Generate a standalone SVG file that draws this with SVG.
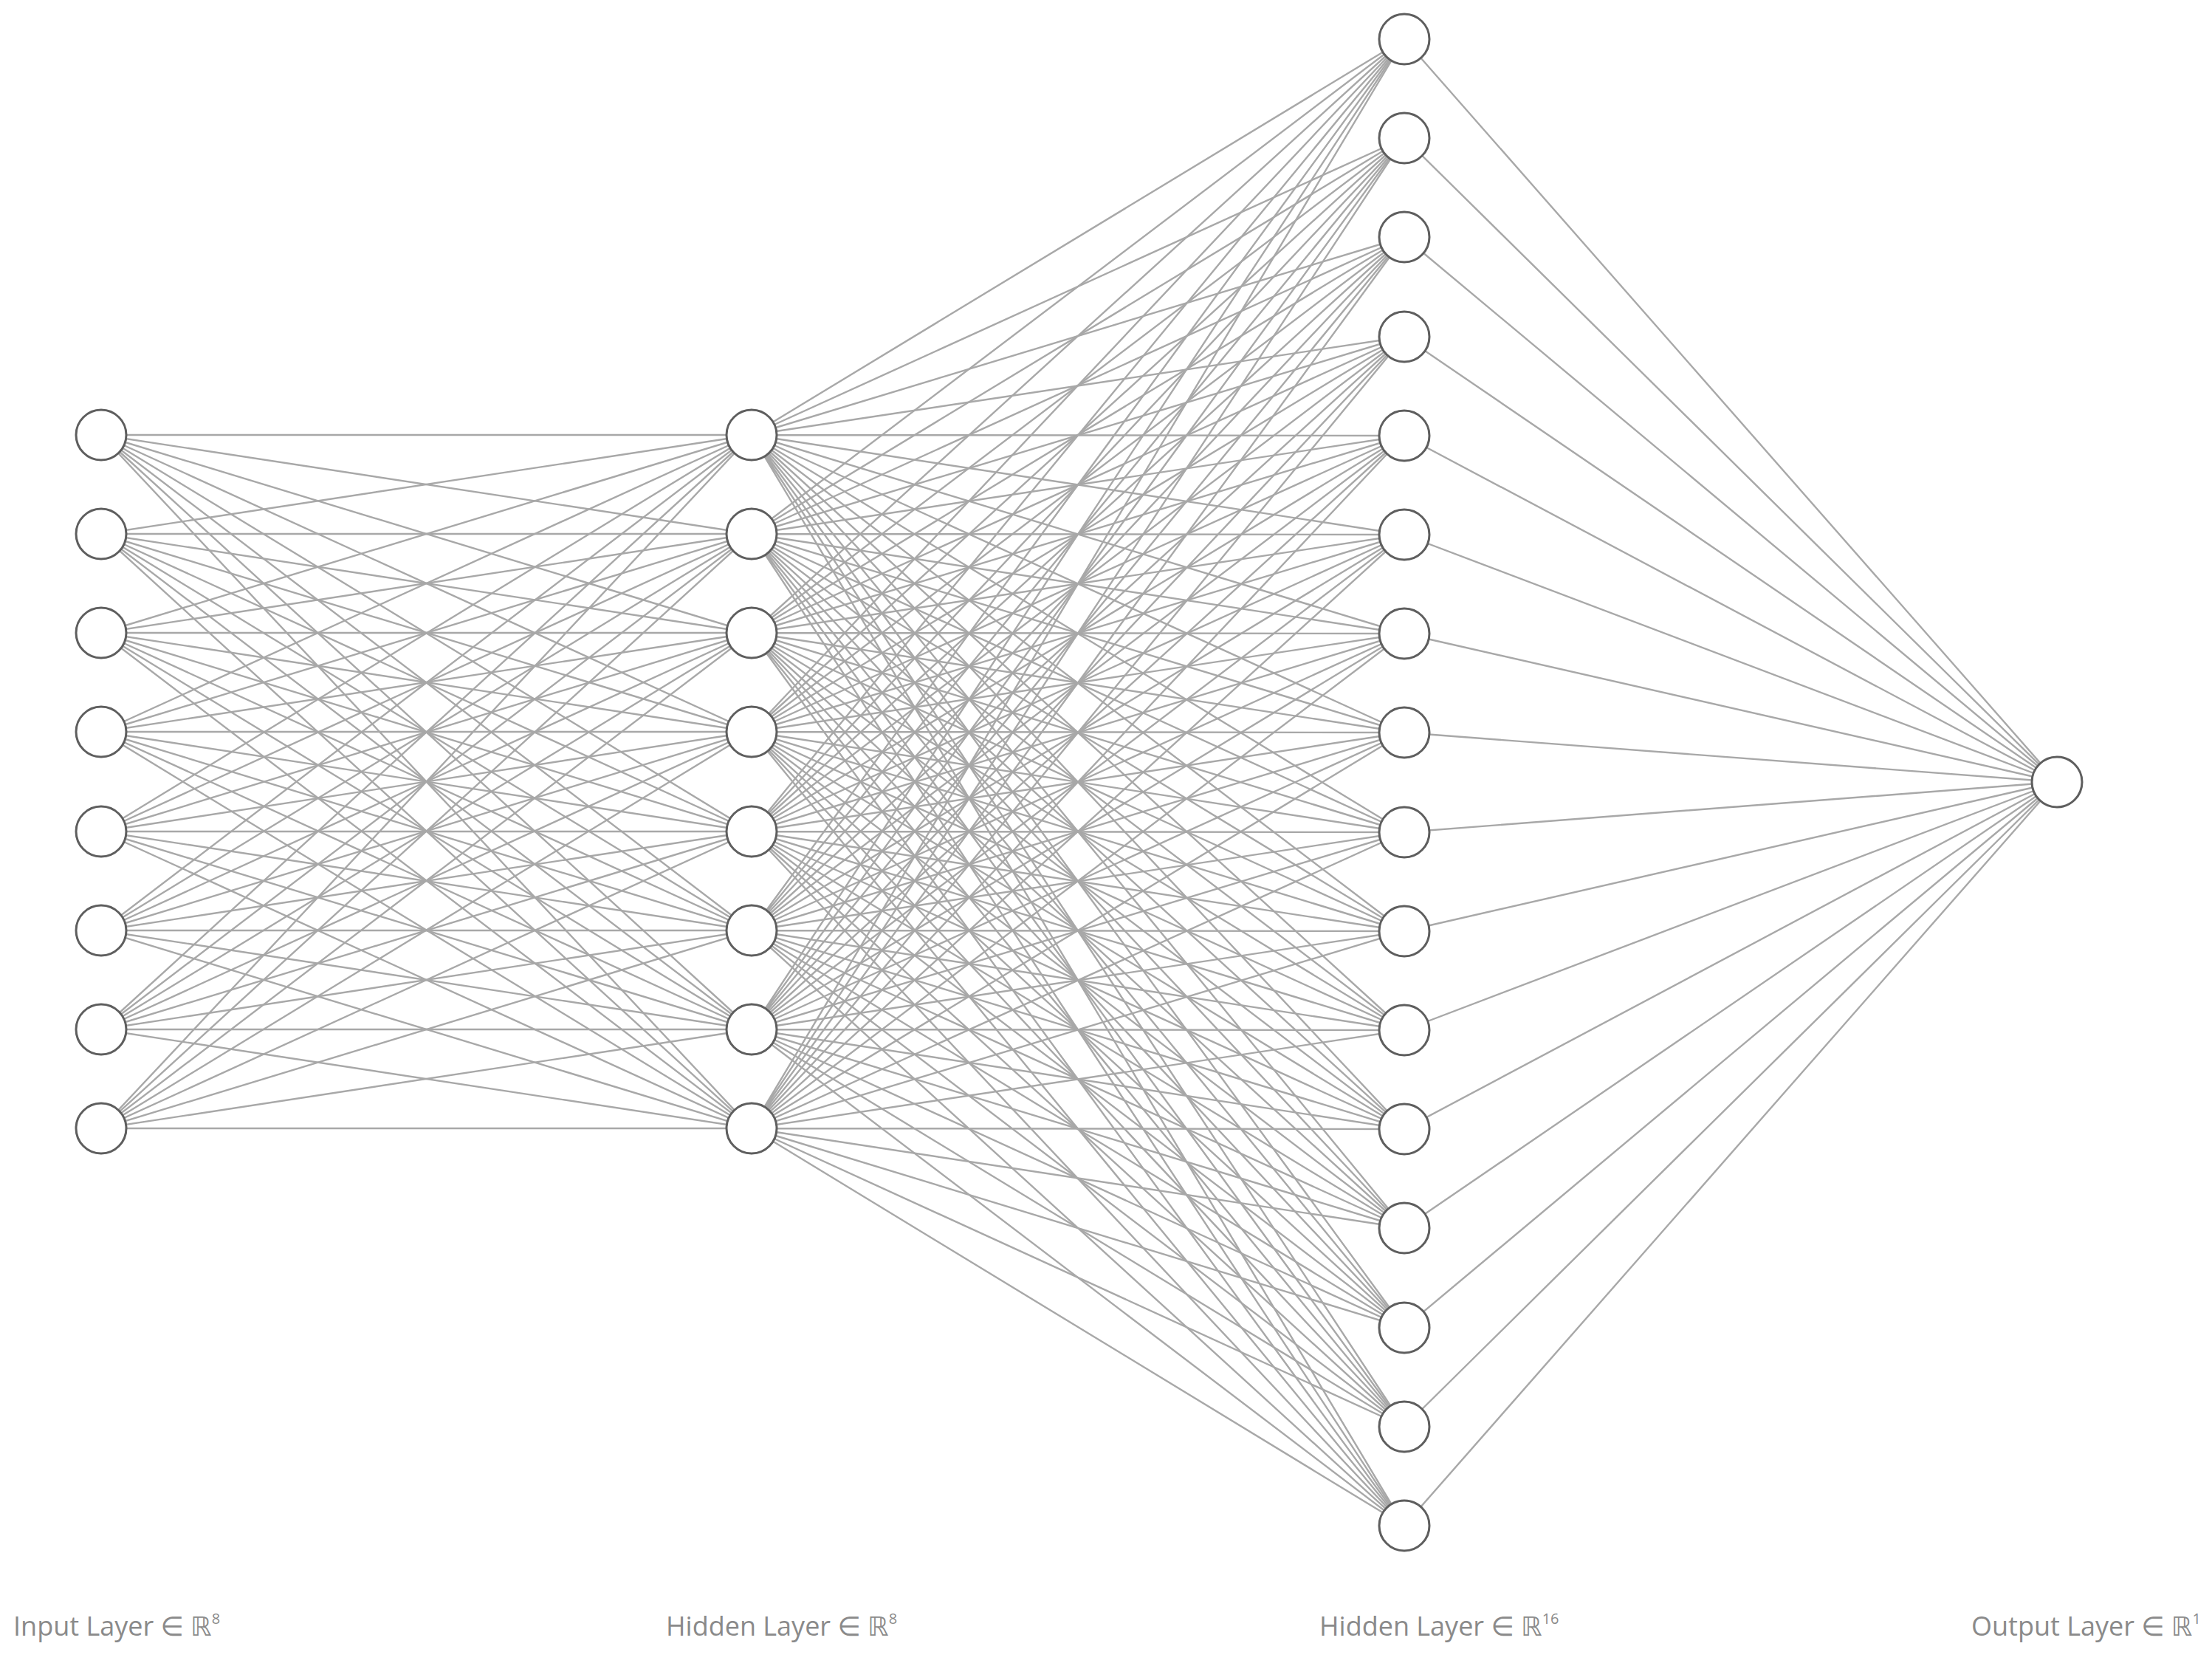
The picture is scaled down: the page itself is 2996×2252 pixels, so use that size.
<svg xmlns="http://www.w3.org/2000/svg" width="2996" height="2252" viewBox="0 0 2996 2252">
<style>
.e{fill:none;stroke:#a8a8a8;stroke-width:2.4}
.n{fill:#fff;stroke:#5e5e5e;stroke-width:3}
.t{font-family:"Open Sans","DejaVu Sans",sans-serif;font-size:36px;fill:#8a8a8a}
.s{font-size:20px}
</style>
<rect width="2996" height="2252" fill="#fff"/>
<g id="connectors">
<path class="e" d="M137 589L1018 589M137 589L1018 723M137 589L1018 857M137 589L1018 991M137 589L1018 1126M137 589L1018 1260M137 589L1018 1394M137 589L1018 1528"/>
<path class="e" d="M137 723L1018 589M137 723L1018 723M137 723L1018 857M137 723L1018 991M137 723L1018 1126M137 723L1018 1260M137 723L1018 1394M137 723L1018 1528"/>
<path class="e" d="M137 857L1018 589M137 857L1018 723M137 857L1018 857M137 857L1018 991M137 857L1018 1126M137 857L1018 1260M137 857L1018 1394M137 857L1018 1528"/>
<path class="e" d="M137 991L1018 589M137 991L1018 723M137 991L1018 857M137 991L1018 991M137 991L1018 1126M137 991L1018 1260M137 991L1018 1394M137 991L1018 1528"/>
<path class="e" d="M137 1126L1018 589M137 1126L1018 723M137 1126L1018 857M137 1126L1018 991M137 1126L1018 1126M137 1126L1018 1260M137 1126L1018 1394M137 1126L1018 1528"/>
<path class="e" d="M137 1260L1018 589M137 1260L1018 723M137 1260L1018 857M137 1260L1018 991M137 1260L1018 1126M137 1260L1018 1260M137 1260L1018 1394M137 1260L1018 1528"/>
<path class="e" d="M137 1394L1018 589M137 1394L1018 723M137 1394L1018 857M137 1394L1018 991M137 1394L1018 1126M137 1394L1018 1260M137 1394L1018 1394M137 1394L1018 1528"/>
<path class="e" d="M137 1528L1018 589M137 1528L1018 723M137 1528L1018 857M137 1528L1018 991M137 1528L1018 1126M137 1528L1018 1260M137 1528L1018 1394M137 1528L1018 1528"/>
<path class="e" d="M1018 589L1902 53M1018 589L1902 187M1018 589L1902 321M1018 589L1902 456M1018 589L1902 590M1018 589L1902 724M1018 589L1902 858M1018 589L1902 992M1018 589L1902 1127M1018 589L1902 1261M1018 589L1902 1395M1018 589L1902 1529M1018 589L1902 1663M1018 589L1902 1798M1018 589L1902 1932M1018 589L1902 2066"/>
<path class="e" d="M1018 723L1902 53M1018 723L1902 187M1018 723L1902 321M1018 723L1902 456M1018 723L1902 590M1018 723L1902 724M1018 723L1902 858M1018 723L1902 992M1018 723L1902 1127M1018 723L1902 1261M1018 723L1902 1395M1018 723L1902 1529M1018 723L1902 1663M1018 723L1902 1798M1018 723L1902 1932M1018 723L1902 2066"/>
<path class="e" d="M1018 857L1902 53M1018 857L1902 187M1018 857L1902 321M1018 857L1902 456M1018 857L1902 590M1018 857L1902 724M1018 857L1902 858M1018 857L1902 992M1018 857L1902 1127M1018 857L1902 1261M1018 857L1902 1395M1018 857L1902 1529M1018 857L1902 1663M1018 857L1902 1798M1018 857L1902 1932M1018 857L1902 2066"/>
<path class="e" d="M1018 991L1902 53M1018 991L1902 187M1018 991L1902 321M1018 991L1902 456M1018 991L1902 590M1018 991L1902 724M1018 991L1902 858M1018 991L1902 992M1018 991L1902 1127M1018 991L1902 1261M1018 991L1902 1395M1018 991L1902 1529M1018 991L1902 1663M1018 991L1902 1798M1018 991L1902 1932M1018 991L1902 2066"/>
<path class="e" d="M1018 1126L1902 53M1018 1126L1902 187M1018 1126L1902 321M1018 1126L1902 456M1018 1126L1902 590M1018 1126L1902 724M1018 1126L1902 858M1018 1126L1902 992M1018 1126L1902 1127M1018 1126L1902 1261M1018 1126L1902 1395M1018 1126L1902 1529M1018 1126L1902 1663M1018 1126L1902 1798M1018 1126L1902 1932M1018 1126L1902 2066"/>
<path class="e" d="M1018 1260L1902 53M1018 1260L1902 187M1018 1260L1902 321M1018 1260L1902 456M1018 1260L1902 590M1018 1260L1902 724M1018 1260L1902 858M1018 1260L1902 992M1018 1260L1902 1127M1018 1260L1902 1261M1018 1260L1902 1395M1018 1260L1902 1529M1018 1260L1902 1663M1018 1260L1902 1798M1018 1260L1902 1932M1018 1260L1902 2066"/>
<path class="e" d="M1018 1394L1902 53M1018 1394L1902 187M1018 1394L1902 321M1018 1394L1902 456M1018 1394L1902 590M1018 1394L1902 724M1018 1394L1902 858M1018 1394L1902 992M1018 1394L1902 1127M1018 1394L1902 1261M1018 1394L1902 1395M1018 1394L1902 1529M1018 1394L1902 1663M1018 1394L1902 1798M1018 1394L1902 1932M1018 1394L1902 2066"/>
<path class="e" d="M1018 1528L1902 53M1018 1528L1902 187M1018 1528L1902 321M1018 1528L1902 456M1018 1528L1902 590M1018 1528L1902 724M1018 1528L1902 858M1018 1528L1902 992M1018 1528L1902 1127M1018 1528L1902 1261M1018 1528L1902 1395M1018 1528L1902 1529M1018 1528L1902 1663M1018 1528L1902 1798M1018 1528L1902 1932M1018 1528L1902 2066"/>
<path class="e" d="M1902 53L2786 1059M1902 187L2786 1059M1902 321L2786 1059M1902 456L2786 1059M1902 590L2786 1059M1902 724L2786 1059M1902 858L2786 1059M1902 992L2786 1059M1902 1127L2786 1059M1902 1261L2786 1059M1902 1395L2786 1059M1902 1529L2786 1059M1902 1663L2786 1059M1902 1798L2786 1059M1902 1932L2786 1059M1902 2066L2786 1059"/>
</g>
<g id="input-layer">
<g id="in1"><circle class="n" cx="137" cy="589" r="34"/></g>
<g id="in2"><circle class="n" cx="137" cy="723" r="34"/></g>
<g id="in3"><circle class="n" cx="137" cy="857" r="34"/></g>
<g id="in4"><circle class="n" cx="137" cy="991" r="34"/></g>
<g id="in5"><circle class="n" cx="137" cy="1126" r="34"/></g>
<g id="in6"><circle class="n" cx="137" cy="1260" r="34"/></g>
<g id="in7"><circle class="n" cx="137" cy="1394" r="34"/></g>
<g id="in8"><circle class="n" cx="137" cy="1528" r="34"/></g>
</g>
<g id="hidden1-layer">
<g id="h1_1"><circle class="n" cx="1018" cy="589" r="34"/></g>
<g id="h1_2"><circle class="n" cx="1018" cy="723" r="34"/></g>
<g id="h1_3"><circle class="n" cx="1018" cy="857" r="34"/></g>
<g id="h1_4"><circle class="n" cx="1018" cy="991" r="34"/></g>
<g id="h1_5"><circle class="n" cx="1018" cy="1126" r="34"/></g>
<g id="h1_6"><circle class="n" cx="1018" cy="1260" r="34"/></g>
<g id="h1_7"><circle class="n" cx="1018" cy="1394" r="34"/></g>
<g id="h1_8"><circle class="n" cx="1018" cy="1528" r="34"/></g>
</g>
<g id="hidden2-layer">
<g id="h2_1"><circle class="n" cx="1902" cy="53" r="34"/></g>
<g id="h2_2"><circle class="n" cx="1902" cy="187" r="34"/></g>
<g id="h2_3"><circle class="n" cx="1902" cy="321" r="34"/></g>
<g id="h2_4"><circle class="n" cx="1902" cy="456" r="34"/></g>
<g id="h2_5"><circle class="n" cx="1902" cy="590" r="34"/></g>
<g id="h2_6"><circle class="n" cx="1902" cy="724" r="34"/></g>
<g id="h2_7"><circle class="n" cx="1902" cy="858" r="34"/></g>
<g id="h2_8"><circle class="n" cx="1902" cy="992" r="34"/></g>
<g id="h2_9"><circle class="n" cx="1902" cy="1127" r="34"/></g>
<g id="h2_10"><circle class="n" cx="1902" cy="1261" r="34"/></g>
<g id="h2_11"><circle class="n" cx="1902" cy="1395" r="34"/></g>
<g id="h2_12"><circle class="n" cx="1902" cy="1529" r="34"/></g>
<g id="h2_13"><circle class="n" cx="1902" cy="1663" r="34"/></g>
<g id="h2_14"><circle class="n" cx="1902" cy="1798" r="34"/></g>
<g id="h2_15"><circle class="n" cx="1902" cy="1932" r="34"/></g>
<g id="h2_16"><circle class="n" cx="1902" cy="2066" r="34"/></g>
</g>
<g id="output-layer">
<g id="out1"><circle class="n" cx="2786" cy="1059" r="34"/></g>
</g>
<g id="labels">
<text class="t" x="18" y="2215">Input Layer ∈ ℝ<tspan class="s" dy="-16">8</tspan></text>
<text class="t" x="902" y="2215">Hidden Layer ∈ ℝ<tspan class="s" dy="-16">8</tspan></text>
<text class="t" x="1787" y="2215">Hidden Layer ∈ ℝ<tspan class="s" dy="-16">16</tspan></text>
<text class="t" x="2670" y="2215">Output Layer ∈ ℝ<tspan class="s" dy="-16">1</tspan></text>
</g>
</svg>
